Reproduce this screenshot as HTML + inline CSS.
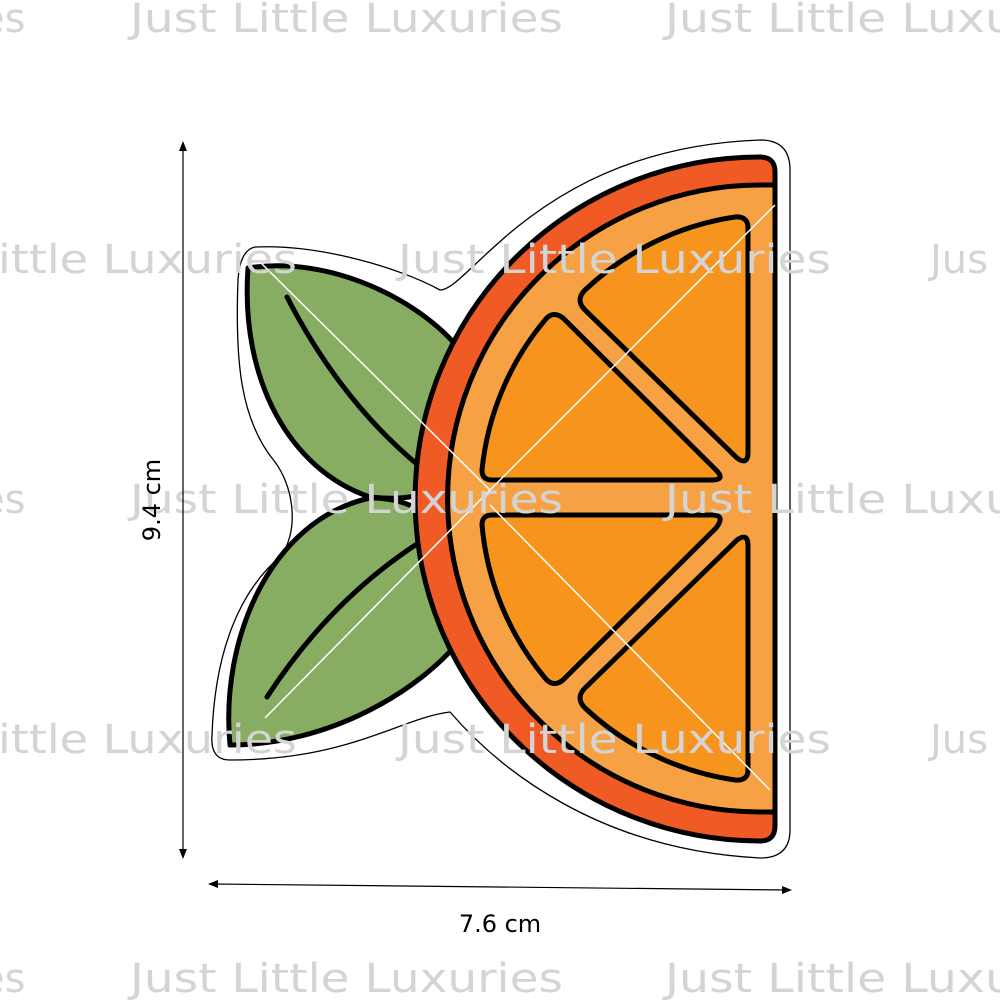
<!DOCTYPE html>
<html><head><meta charset="utf-8"><style>
html,body{margin:0;padding:0;background:#fff}
svg{display:block}
.wm{font-family:"DejaVu Sans","Liberation Sans",sans-serif;font-size:40px;fill:#d4d4d4}
</style></head><body>
<svg width="1000" height="1000" viewBox="0 0 1000 1000" xmlns="http://www.w3.org/2000/svg">
<path d="M255,247 C320,244 400,268 440,290 C470,290 540,148 760,140 Q790,140 790,170 L790,830 Q790,858 760,858 C600,850 500,770 450,712 C400,718 350,760 230,760 Q210,760 212,735 C215,650 240,590 282,555 C300,525 292,485 275,462 C240,420 235,360 238,280 Q240,250 255,247 Z" fill="#fff" stroke="#000" stroke-width="1.3"/>
<path d="M248,268 C330,255 420,300 460,350 L460,470 C430,500 400,500 370,497 C290,470 240,380 248,268 Z" fill="#87ad62" stroke="#000" stroke-width="5" stroke-linejoin="round"/>
<path d="M370,498 C410,497 450,520 460,560 L460,640 C420,690 330,745 230,745 C220,640 270,520 370,498 Z" fill="#87ad62" stroke="#000" stroke-width="5" stroke-linejoin="round"/>
<path d="M287,297 Q340,400 418,465" fill="none" stroke="#000" stroke-width="5" stroke-linecap="round"/>
<path d="M267,697 Q330,600 420,542" fill="none" stroke="#000" stroke-width="5" stroke-linecap="round"/>
<path d="M760,157 A345,342 0 0 0 760,841 Q775,841 775,826 L775,172 Q775,157 760,157 Z" fill="#f05a24" stroke="#000" stroke-width="5"/>
<path d="M775,185 L760,185 A312,313 0 0 0 760,812 L775,812 Z" fill="#f7a145" stroke="#000" stroke-width="5"/>
<g fill="#f7941d" stroke="#000" stroke-width="5" stroke-linejoin="round">
<path d="M748,228 Q748,216 735,217 A278,278 0 0 0 585,290 Q575,300 585,310 L737,458 Q748,466 748,452 Z"/>
<path d="M563,318 Q553,310 545,320 A278,278 0 0 0 482,470 Q482,480 492,480 L712,480 Q726,480 716,470 Z"/>
<path d="M492,515 Q482,515 482,525 A278,278 0 0 0 545,678 Q553,688 563,680 L716,528 Q726,515 712,515 Z"/>
<path d="M748,546 Q748,532 737,540 L585,688 Q575,698 585,708 A278,278 0 0 0 735,780 Q748,781 748,770 Z"/>
</g>
<g stroke="#fff" stroke-width="1.5">
<line x1="260" y1="262" x2="490" y2="490"/><line x1="490" y1="490" x2="265" y2="718"/>
<line x1="490" y1="490" x2="775" y2="205"/><line x1="490" y1="505" x2="770" y2="790"/>
</g>
<g class="wm">
<text x="130" y="32" textLength="433" lengthAdjust="spacingAndGlyphs">Just Little Luxuries</text><text x="665" y="32" textLength="350" lengthAdjust="spacingAndGlyphs">Just Little Luxu</text><text x="-20" y="32">es</text>
<text x="-2" y="273" textLength="299" lengthAdjust="spacingAndGlyphs">ittle Luxuries</text><text x="398" y="273" textLength="433" lengthAdjust="spacingAndGlyphs">Just Little Luxuries</text><text x="930" y="273">Jus</text>
<text x="-20" y="513">es</text><text x="130" y="513" textLength="433" lengthAdjust="spacingAndGlyphs">Just Little Luxuries</text><text x="665" y="513" textLength="350" lengthAdjust="spacingAndGlyphs">Just Little Luxu</text>
<text x="-2" y="753" textLength="299" lengthAdjust="spacingAndGlyphs">ittle Luxuries</text><text x="398" y="753" textLength="433" lengthAdjust="spacingAndGlyphs">Just Little Luxuries</text><text x="930" y="753">Jus</text>
<text x="-20" y="992">es</text><text x="130" y="992" textLength="433" lengthAdjust="spacingAndGlyphs">Just Little Luxuries</text><text x="665" y="992" textLength="350" lengthAdjust="spacingAndGlyphs">Just Little Luxu</text>
</g>
<g stroke="#000" stroke-width="1.2">
<line x1="183" y1="146" x2="183" y2="854"/><line x1="213" y1="884" x2="787" y2="890"/>
</g>
<path d="M183,141 L179,151 L187,151 Z M183,859 L179,849 L187,849 Z" fill="#000"/>
<path d="M208,884 L218,880 L218,888 Z M792,890 L782,886 L782,894 Z" fill="#000"/>
<text x="0" y="0" transform="translate(160,500) rotate(-90)" text-anchor="middle" font-family="DejaVu Sans,sans-serif" font-size="24">9.4 cm</text>
<text x="500" y="932" text-anchor="middle" font-family="DejaVu Sans,sans-serif" font-size="24">7.6 cm</text>
</svg>
</body></html>
